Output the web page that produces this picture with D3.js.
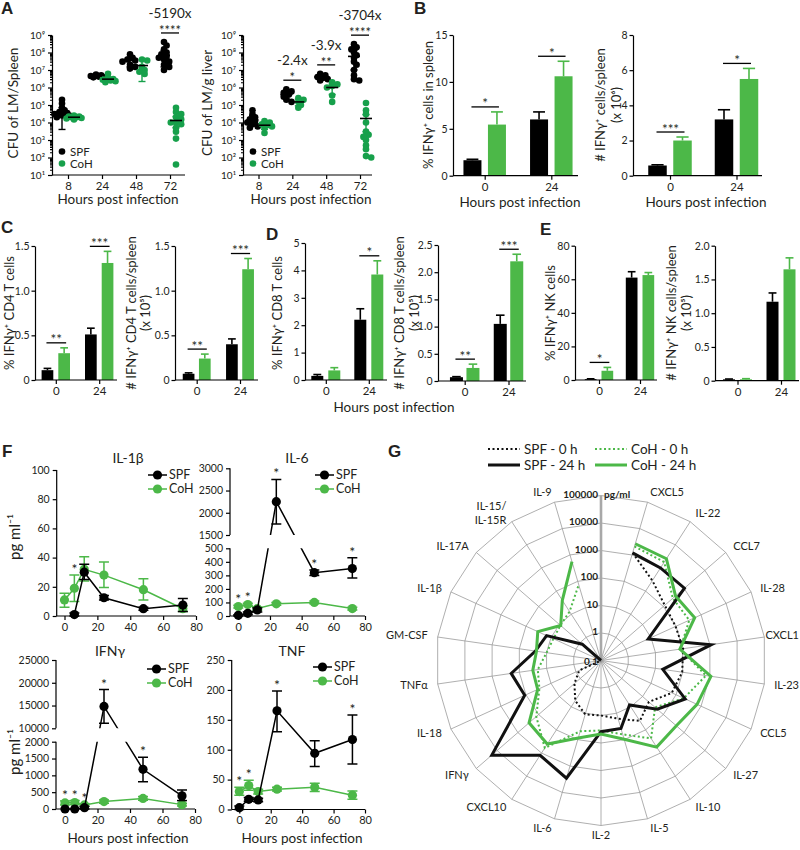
<!DOCTYPE html>
<html><head><meta charset="utf-8">
<script src="https://cdn.jsdelivr.net/npm/d3@7"></script>
<style>
body{margin:0;background:#fff;}
svg text{font-family:Lato,"Open Sans",sans-serif;fill:#231f20;}
</style></head>
<body><svg id="chart" width="800" height="850"></svg>
<script>
// ================= DATA =================
// Panel A : CFU (log scale), individual mice
const hoursA=["8","24","48","72"];
const aTicks=[1e1,1e2,1e3,1e4,1e5,1e6,1e7,1e8,1e9];
const spleenSPF=[[2e5,1.2e5,7e4,5e4,4e4,3.5e4,3e4,2.5e4,2.5e4,2e4],[5.5e6,5e6,4.5e6,4e6,3.8e6,4.2e6],[8e7,5e7,4e7,3.5e7,3e7,2e7,1.5e7,1.2e7],[4e8,2.5e8,1.5e8,1e8,8e7,6e7,5e7,4e7,3e7,2e7,1.5e7,1e7]];
const spleenCoH=[[2.5e4,2.2e4,2e4,2e4,1.8e4,1.7e4,1.5e4,2.2e4],[6e6,3.2e6,3e6,2.8e6,2.5e6,2.3e6,2e6],[4e7,3.5e7,1.5e7,1e7,8e6,6e6],[7e4,4e4,3e4,2e4,1.5e4,1e4,1e4,8e3,5e3,3e3,1.2e3,40]];
const spleenSPFmean=[4e4,4.5e6,3.5e7,7e7];
const spleenSPFerr=[[4e3,7e4],[3.9e6,5.2e6],[1.5e7,5.5e7],[1.5e7,1.3e8]];
const spleenCoHmean=[2e4,3e6,1.8e7,1.3e4];
const spleenCoHerr=[[1.6e4,2.4e4],[2.3e6,4e6],[2.2e6,4e7],[5e3,2.2e4]];
const spleenSig=[null,null,null,{stars:"****",fold:"-5190x"}];

const liverSPF=[[5e4,3e4,2e4,1.5e4,1.2e4,1e4,8e3,6e3,5e3],[8e5,6e5,5e5,4e5,3e5,2e5,1.5e5],[6e6,5e6,4e6,3.5e6,3e6,2.5e6],[3e8,2e8,1.5e8,1e8,7e7,5e7,3e7,2e7,1e7,5e6,3e6,2.5e6]];
const liverCoH=[[1.2e4,1e4,8e3,7e3,6e3,5e3,2.5e3],[2.5e5,2e5,1.5e5,1e5,7e4],[2e6,1.5e6,1.2e6,1e6,3.5e5,1.5e5],[1.3e5,5e4,3e4,1e4,3e3,2e3,1.5e3,1e3,500,300,100,120]];
const liverSPFmean=[1.4e4,4e5,4e6,6e7];
const liverSPFerr=[[7e3,2.5e4],[2.5e5,6e5],[3e6,5.5e6],[1e7,1.3e8]];
const liverCoHmean=[7e3,1.5e5,1e6,1.7e4];
const liverCoHerr=[[4e3,1e4],[9e4,2.2e5],[4e5,1.6e6],[3e3,2.8e4]];
const liverSig=[null,{stars:"*",fold:"-2.4x"},{stars:"**",fold:"-3.9x"},{stars:"****",fold:"-3704x"}];

// Panels B-E : bar charts (mean, top of SEM)
const barGroups=["0","24"];
const bPctSPF=[1.65,6.0],  bPctSPFerr=[1.75,6.8],  bPctCoH=[5.45,10.6], bPctCoHerr=[6.8,12.2], bPctSig=["*","*"];
const bNumSPF=[0.58,3.2],  bNumSPFerr=[0.62,3.75], bNumCoH=[2.0,5.5],   bNumCoHerr=[2.2,6.1],  bNumSig=["***","*"];
const cPctSPF=[0.11,0.51], cPctSPFerr=[0.13,0.58], cPctCoH=[0.30,1.31], cPctCoHerr=[0.36,1.44], cPctSig=["**","***"];
const cNumSPF=[0.07,0.40], cNumSPFerr=[0.08,0.46], cNumCoH=[0.24,1.24], cNumCoHerr=[0.29,1.36], cNumSig=["**","***"];
const dPctSPF=[0.15,2.2],  dPctSPFerr=[0.2,2.6],   dPctCoH=[0.35,3.85], dPctCoHerr=[0.45,4.35], dPctSig=["","*"];
const dNumSPF=[0.07,1.05], dNumSPFerr=[0.08,1.21], dNumCoH=[0.24,2.2],  dNumCoHerr=[0.31,2.33], dNumSig=["**","***"];
const ePctSPF=[0.5,61],    ePctSPFerr=[0.7,64.5],  ePctCoH=[5.5,62.5],  ePctCoHerr=[7.5,64],    ePctSig=["*",""];
const eNumSPF=[0.02,1.17], eNumSPFerr=[0.025,1.3], eNumCoH=[0.02,1.65], eNumCoHerr=[0.03,1.82], eNumSig=["",""];

// Panel F : cytokines over time (pg/ml)
const fTimes=[0,6,12,24,48,72];
const il1bSPF=[null,1,30,12.5,5,7.5];
const il1bSPFerr=[null,[0,2],[25,35.5],[11,14],[4,6],[3,12]];
const il1bCoH=[11,19,32,28,18,5];
const il1bCoHerr=[[6,15.5],[10,28],[24,40.5],[19.5,37],[11,25.5],[3,7]];
const il1bStars=[6];
const il6SPF=[5,20,45,2250,320,350];
const il6SPFerr=[[0,10],[10,30],[30,60],[1750,2750],[300,340],[280,430]];
const il6CoH=[70,85,55,90,100,55];
const il6CoHerr=[[60,80],[75,95],[45,65],[80,100],[90,110],[45,65]];
const il6Stars=[0,6,24,48,72];
const ifngSPF=[0,0,40,14800,1180,390];
const ifngSPFerr=[[0,0],[0,0],[0,80],[11100,18500],[810,1540],[250,565]];
const ifngCoH=[180,190,120,220,315,130];
const ifngCoHerr=[[120,240],[130,250],[80,160],[170,270],[260,370],[90,170]];
const ifngStars=[0,6,12,24,48];
const tnfSPF=[3,17,16,165,94,117];
const tnfSPFerr=[[0,6],[14,20],[13,19],[130,198],[72,115],[76,158]];
const tnfCoH=[30,40,30,34,37,24];
const tnfCoHerr=[[24,37],[32,49],[26,34],[31,37],[30,44],[17,31]];
const tnfStars=[0,6,24,72];

// Panel G : radar (pg/ml, log)
const radarCats=["CXCL5","IL-22","CCL7","IL-28","CXCL1","IL-23","CCL5","IL-27","IL-10","IL-5","IL-2","IL-6","CXCL10","IFNγ","IL-18","TNFα","GM-CSF","IL-1β","IL-17A","IL-15/|IL-15R","IL-9"];
const radarSPF0 =[1200,285,117,96,104,96,68,20,41,16,10,11,5.4,1.9,0.74,0.1,0.1,0.1,0.1,0.1,0.1];
const radarCoH0 =[2100,1800,285,337,81,716,204,40,233,63,35,48,605,130,29,21,10,8,9,13,75];
const radarSPF24=[1200,1000,1035,7.7,1115,18.6,233,51,8.3,37.5,38.8,2900,1250,18000,112,199,25.7,15,0.8,0.1,0.1];
const radarCoH24=[2660,2510,385,556,79,1090,692,422,556,97,47,86,408,290,34,32,23.5,33.7,8.7,40,556];
const radarRings=[1,10,100,1000,10000,100000];
const radarSeries=[
  {name:"SPF - 0 h", vals:radarSPF0, color:"#111", dash:"2,2.5", w:2},
  {name:"CoH - 0 h", vals:radarCoH0, color:"#4cb848", dash:"2,2.5", w:2},
  {name:"SPF - 24 h",vals:radarSPF24,color:"#111", dash:null, w:3},
  {name:"CoH - 24 h",vals:radarCoH24,color:"#4cb848", dash:null, w:3}
];

// ================= DRAWING =================
const svg=d3.select("#chart");
const BLK="#000", GRN="#4cb848", GRN_A="#17a04b";
const supDigits="⁰¹²³⁴⁵⁶⁷⁸⁹";
const sup=n=>String(n).split("").map(c=>supDigits[+c]).join("");

function styleAxis(a,fs){
  a.attr("font-family",null).attr("font-size",fs);
  a.selectAll(".domain,.tick line").attr("stroke","#000").attr("stroke-width",1.2);
  a.selectAll("text").attr("fill","#231f20");
}
function rotLabel(xs,y,lines,fs){
  lines.forEach((t,i)=>svg.append("text").attr("transform",`translate(${xs[i]},${y}) rotate(-90)`)
    .attr("text-anchor","middle").attr("dy","0.35em").attr("font-size",fs).text(t));
}
function txt(x,y,t,fs,anchor){
  return svg.append("text").attr("x",x).attr("y",y).attr("font-size",fs).attr("text-anchor",anchor||"middle").text(t);
}
function panelLabel(x,y,t){
  svg.append("text").attr("x",x).attr("y",y).attr("font-size",17).attr("font-weight","bold")
   .style("font-family","'Liberation Sans',Arial,sans-serif").text(t);
}

// ---------- Panel A ----------
// compact dodge: points that would overlap are nudged sideways, within a narrow band
function swarm(vals,y,cx){
  const pts=vals.map(v=>({v,y:y(v)})).sort((a,b)=>a.y-b.y);
  const placed=[]; const offs=[0,2.6,-2.6,5.2,-5.2,7.5,-7.5];
  pts.forEach(p=>{
    let best=0,bestD=-1;
    for(const o of offs){
      const dmin=placed.length?d3.min(placed,q=>Math.hypot(q.x-(cx+o),q.y-p.y)):99;
      if(dmin>=3.6){best=o;bestD=dmin;break;}
      if(dmin>bestD){bestD=dmin;best=o;}
    }
    p.x=cx+best; placed.push(p);
  });
  return pts;
}
function scatterA(o){
  const g=svg.append("g");
  const y=d3.scaleLog().domain([10,1e9]).range([175,35]);
  const xg=d3.scalePoint().domain(hoursA).range([o.c0,o.c1]);
  const off={SPF:-6,CoH:6};
  const ya=g.append("g").attr("transform",`translate(${o.ax},0)`)
    .call(d3.axisLeft(y).tickValues(aTicks).tickSize(4).tickSizeOuter(0).tickFormat(v=>"10"+sup(Math.round(Math.log10(v)))));
  styleAxis(ya,10);
  const minor=[]; aTicks.slice(0,-1).forEach(t=>{for(let k=2;k<10;k++)minor.push(t*k);});
  const ym=g.append("g").attr("transform",`translate(${o.ax},0)`).call(d3.axisLeft(y).tickValues(minor).tickSize(2).tickFormat(()=>""));
  ym.select(".domain").remove(); styleAxis(ym,9);
  const xa=g.append("g").attr("transform","translate(0,175)").call(d3.axisBottom(xg).tickSize(4).tickSizeOuter(0));
  xa.select(".domain").attr("d",`M${o.ax},0H${o.axEnd}`);
  styleAxis(xa,11.5);
  const series=[{k:"SPF",pts:o.spf,m:o.spfM,e:o.spfE,c:BLK,ec:BLK},{k:"CoH",pts:o.coh,m:o.cohM,e:o.cohE,c:GRN_A,ec:GRN_A}];
  series.forEach(s=>{
    hoursA.forEach((h,i)=>{
      const cx=xg(h)+off[s.k];
      swarm(s.pts[i],y,cx).forEach(p=>g.append("circle").attr("cx",p.x).attr("cy",p.y).attr("r",3.3).attr("fill",s.c));
    });
  });
  series.forEach(s=>{
    hoursA.forEach((h,i)=>{
      const cx=xg(h)+off[s.k];
      g.append("line").attr("x1",cx).attr("x2",cx).attr("y1",y(s.e[i][0])).attr("y2",y(s.e[i][1])).attr("stroke",s.ec).attr("stroke-width",1.4);
      s.e[i].forEach(v=>g.append("line").attr("x1",cx-3.5).attr("x2",cx+3.5).attr("y1",y(v)).attr("y2",y(v)).attr("stroke",s.ec).attr("stroke-width",1.4));
      g.append("line").attr("x1",cx-6).attr("x2",cx+6).attr("y1",y(s.m[i])).attr("y2",y(s.m[i])).attr("stroke","#000").attr("stroke-width",1.6);
    });
  });
  o.sig.forEach((sg,i)=>{
    if(!sg) return;
    const top=y(d3.max(o.spf[i].concat(o.coh[i])));
    const ly=top-9, cx=xg(hoursA[i]);
    g.append("line").attr("x1",cx-9).attr("x2",cx+9).attr("y1",ly).attr("y2",ly).attr("stroke","#000").attr("stroke-width",1.3);
    txt(cx,ly+2,sg.stars,13);
    txt(cx,ly-15,sg.fold,13.5);
  });
  [["SPF",BLK],["CoH",GRN_A]].forEach((d,i)=>{
    g.append("circle").attr("cx",o.lx).attr("cy",o.ly+i*12).attr("r",3.3).attr("fill",d[1]);
    txt(o.lx+8,o.ly+i*12+4,d[0],11.5,"start");
  });
  txt(o.xlx,204,"Hours post infection",13.5);
  rotLabel([o.ylx],103,[o.ylabel],13.5);
}
scatterA({ax:52,axEnd:185,c0:68,c1:170,spf:spleenSPF,coh:spleenCoH,spfM:spleenSPFmean,spfE:spleenSPFerr,cohM:spleenCoHmean,cohE:spleenCoHerr,sig:spleenSig,lx:62,ly:151.5,xlx:118,ylx:13,ylabel:"CFU of LM/Spleen"});
scatterA({ax:243,axEnd:372,c0:258.5,c1:360,spf:liverSPF,coh:liverCoH,spfM:liverSPFmean,spfE:liverSPFerr,cohM:liverCoHmean,cohE:liverCoHerr,sig:liverSig,lx:253,ly:151.5,xlx:311,ylx:207,ylabel:"CFU of LM/g liver"});

// ---------- Bar charts B-E ----------
function barChart(o){
  const g=svg.append("g");
  const y=d3.scaleLinear().domain([0,o.max]).range([o.y0,o.yTop]);
  const xg=d3.scalePoint().domain(barGroups).range([o.c0,o.c1]);
  const xs=d3.scaleOrdinal().domain(["SPF","CoH"]).range([-(o.gap/2+o.bw),o.gap/2]);
  const series=[{k:"SPF",v:o.spf,e:o.spfE,c:BLK},{k:"CoH",v:o.coh,e:o.cohE,c:GRN}];
  series.forEach(s=>{
    g.selectAll(null).data(barGroups).enter().append("rect")
      .attr("x",d=>xg(d)+xs(s.k)).attr("width",o.bw)
      .attr("y",(d,i)=>y(s.v[i])).attr("height",(d,i)=>y(0)-y(s.v[i])).attr("fill",s.c);
    barGroups.forEach((d,i)=>{
      const cx=xg(d)+xs(s.k)+o.bw/2;
      g.append("line").attr("x1",cx).attr("x2",cx).attr("y1",y(s.v[i])).attr("y2",y(s.e[i])).attr("stroke",s.c).attr("stroke-width",1.6);
      g.append("line").attr("x1",cx-o.bw*0.33).attr("x2",cx+o.bw*0.33).attr("y1",y(s.e[i])).attr("y2",y(s.e[i])).attr("stroke",s.c).attr("stroke-width",1.6);
    });
  });
  const ya=g.append("g").attr("transform",`translate(${o.ax},0)`)
    .call(d3.axisLeft(y).tickValues(o.ticks).tickSize(3.5).tickPadding(2).tickSizeOuter(0).tickFormat(o.fmt||d3.format("")));
  styleAxis(ya,10.5);
  const xa=g.append("g").attr("transform",`translate(0,${o.y0})`).call(d3.axisBottom(xg).tickSize(4).tickSizeOuter(0));
  xa.select(".domain").attr("d",`M${o.ax},0H${o.axEnd}`);
  styleAxis(xa,11.5);
  o.sig.forEach((t,i)=>{
    if(!t) return;
    const d=barGroups[i];
    const ly=Math.min(y(o.spfE[i]),y(o.cohE[i]))-5;
    const x1=xg(d)+xs("SPF")+o.bw/2-1, x2=xg(d)+xs("CoH")+o.bw/2+2;
    g.append("line").attr("x1",x1).attr("x2",x2).attr("y1",ly).attr("y2",ly).attr("stroke","#000").attr("stroke-width",1.3);
    txt((x1+x2)/2,ly+1.5,t,13.5);
  });
  rotLabel(o.lx,o.ly,o.label,13);
}
const fmt1=d3.format(".1f");
barChart({ax:453,axEnd:578,y0:175.7,yTop:35,max:15,ticks:[0,5,10,15],c0:484.7,c1:551.3,bw:18,gap:6.5,spf:bPctSPF,spfE:bPctSPFerr,coh:bPctCoH,cohE:bPctCoHerr,sig:bPctSig,lx:[428],ly:105,label:["% IFNγ⁺ cells in spleen"]});
barChart({ax:633,axEnd:762,y0:175.7,yTop:35,max:8,ticks:[0,2,4,6,8],c0:670,c1:736.5,bw:18.5,gap:6.5,spf:bNumSPF,spfE:bNumSPFerr,coh:bNumCoH,cohE:bNumCoHerr,sig:bNumSig,lx:[600,616],ly:105,label:["# IFNγ⁺ cells/spleen","(x 10⁶)"]});
barChart({ax:35,axEnd:117,y0:380,yTop:246,max:1.5,ticks:[0,0.5,1,1.5],fmt:v=>v===0?"0":fmt1(v),c0:55.8,c1:99.2,bw:11.7,gap:5,spf:cPctSPF,spfE:cPctSPFerr,coh:cPctCoH,cohE:cPctCoHerr,sig:cPctSig,lx:[9],ly:313,label:["% IFNγ⁺ CD4 T cells"]});
barChart({ax:175,axEnd:258,y0:380,yTop:246,max:1.5,ticks:[0,0.5,1,1.5],fmt:v=>v===0?"0":fmt1(v),c0:196.7,c1:240,bw:11.7,gap:4.5,spf:cNumSPF,spfE:cNumSPFerr,coh:cNumCoH,cohE:cNumCoHerr,sig:cNumSig,lx:[131,145],ly:313,label:["# IFNγ⁺ CD4 T cells/spleen","(x 10⁵)"]});
barChart({ax:305,axEnd:387,y0:380,yTop:243,max:5,ticks:[0,1,2,3,4,5],c0:325.8,c1:368.8,bw:12,gap:5,spf:dPctSPF,spfE:dPctSPFerr,coh:dPctCoH,cohE:dPctCoHerr,sig:dPctSig,lx:[277],ly:313,label:["% IFNγ⁺ CD8 T cells"]});
barChart({ax:438,axEnd:526,y0:381,yTop:245,max:2.5,ticks:[0,0.5,1,1.5,2,2.5],fmt:v=>v===0?"0":fmt1(v),c0:464.7,c1:508.5,bw:13,gap:3.5,spf:dNumSPF,spfE:dNumSPFerr,coh:dNumCoH,cohE:dNumCoHerr,sig:dNumSig,lx:[399,414],ly:313,label:["# IFNγ⁺ CD8 T cells/spleen","(x 10⁵)"]});
barChart({ax:575,axEnd:657,y0:380,yTop:245.7,max:80,ticks:[0,20,40,60,80],c0:599,c1:640,bw:11.7,gap:5,spf:ePctSPF,spfE:ePctSPFerr,coh:ePctCoH,cohE:ePctCoHerr,sig:ePctSig,lx:[550],ly:313,label:["% IFNγ⁺ NK cells"]});
barChart({ax:715,axEnd:799,y0:380.7,yTop:245.7,max:2,ticks:[0,0.5,1,1.5,2],fmt:v=>v===0?"0":fmt1(v),c0:737.5,c1:781,bw:12,gap:5,spf:eNumSPF,spfE:eNumSPFerr,coh:eNumCoH,cohE:eNumCoHerr,sig:eNumSig,lx:[671,686],ly:313,label:["# IFNγ⁺ NK cells/spleen","(x 10⁵)"]});
txt(520,207,"Hours post infection",13.5);
txt(706,207,"Hours post infection",13.5);
txt(394,412,"Hours post infection",13.5);

// ---------- Panel F ----------
function lineChart(o){
  const g=svg.append("g");
  const x=d3.scaleLinear().domain([0,80]).range([o.x0,o.x80]);
  const y=d3.scaleLinear().domain(o.yDom).range(o.yRng);
  o.segs.forEach(sg=>{
    const a=g.append("g").attr("transform",`translate(${o.ax},0)`)
      .call(d3.axisLeft(y).tickValues(sg).tickSize(4).tickSizeOuter(0).tickFormat(d3.format("d")));
    a.select(".domain").attr("d",`M0,${y(sg[0])}V${y(sg[sg.length-1])}`);
    styleAxis(a,10.5);
  });
  const xa=g.append("g").attr("transform",`translate(0,${y(0)})`).call(d3.axisBottom(x).tickValues([0,20,40,60,80]).tickSize(4).tickSizeOuter(0));
  xa.select(".domain").attr("d",`M${o.ax},0H${x(80)}`);
  styleAxis(xa,11);
  const id="clip"+o.id;
  const cp=svg.append("defs").append("clipPath").attr("id",id);
  o.segs.forEach((sg,k)=>{
    const top=y(sg[sg.length-1])-(k===o.segs.length-1?40:0);
    const bot=y(sg[0])+(k===0?12:0);
    cp.append("rect").attr("x",o.ax-10).attr("width",x(80)-o.ax+30).attr("y",top).attr("height",bot-top);
  });
  const series=[{v:o.coh,e:o.cohE,c:GRN},{v:o.spf,e:o.spfE,c:BLK}];
  series.forEach(s=>{
    const data=fTimes.map((t,i)=>({t,v:s.v[i],e:s.e[i]}));
    g.append("path").datum(data).attr("clip-path",`url(#${id})`)
      .attr("d",d3.line().defined(d=>d.v!=null).x(d=>x(d.t)).y(d=>y(d.v)))
      .attr("fill","none").attr("stroke",s.c).attr("stroke-width",1.5);
    data.filter(d=>d.v!=null).forEach(d=>{
      const cx=x(d.t);
      if(d.e[1]>d.e[0]){
        const eg=g.append("g").attr("clip-path",`url(#${id})`);
        eg.append("line").attr("x1",cx).attr("x2",cx).attr("y1",y(d.e[0])).attr("y2",y(d.e[1])).attr("stroke",s.c).attr("stroke-width",1.5);
        d.e.forEach(v=>eg.append("line").attr("x1",cx-5).attr("x2",cx+5).attr("y1",y(v)).attr("y2",y(v)).attr("stroke",s.c).attr("stroke-width",1.5));
      }
      g.append("circle").attr("cx",cx).attr("cy",y(d.v)).attr("r",4.6).attr("fill",s.c);
    });
  });
  o.stars.forEach(t=>{
    const i=fTimes.indexOf(t);
    const tops=[o.spf,o.coh].map((v,k)=>{const e=[o.spfE,o.cohE][k][i];return v[i]==null?Infinity:y(Math.max(v[i],e?e[1]:v[i]));});
    const top=Math.min(...tops);
    txt(x(t),top-1,"*",14);
  });
  [["SPF",BLK],["CoH",GRN]].forEach((d,i)=>{
    const ly=o.leg[1]+i*14;
    g.append("line").attr("x1",o.leg[0]).attr("x2",o.leg[0]+19).attr("y1",ly).attr("y2",ly).attr("stroke",d[1]).attr("stroke-width",1.5);
    g.append("circle").attr("cx",o.leg[0]+9.5).attr("cy",ly).attr("r",4.6).attr("fill",d[1]);
    txt(o.leg[0]+21,ly+4,d[0],12.5,"start");
  });
  txt(o.tx,o.ty,o.title,14);
}
lineChart({id:"il1b",ax:56.7,x0:64.5,x80:196,yDom:[0,100],yRng:[616,470],segs:[[0,20,40,60,80,100]],spf:il1bSPF,spfE:il1bSPFerr,coh:il1bCoH,cohE:il1bCoHerr,stars:il1bStars,leg:[148,475],title:"IL-1β",tx:128,ty:463});
lineChart({id:"il6",ax:230,x0:238.3,x80:365,yDom:[0,500,1500,3000],yRng:[616,548.3,535,468.3],segs:[[0,100,200,300,400,500],[1500,2000,2500,3000]],spf:il6SPF,spfE:il6SPFerr,coh:il6CoH,cohE:il6CoHerr,stars:il6Stars,leg:[315,475],title:"IL-6",tx:297,ty:463});
lineChart({id:"ifng",ax:56,x0:65,x80:195,yDom:[0,2000,10000,25000],yRng:[809,741.7,728.3,660],segs:[[0,500,1000,1500,2000],[10000,15000,20000,25000]],spf:ifngSPF,spfE:ifngSPFerr,coh:ifngCoH,cohE:ifngCoHerr,stars:ifngStars,leg:[147,669],title:"IFNγ",tx:110,ty:656});
lineChart({id:"tnf",ax:231.7,x0:239.3,x80:365,yDom:[0,250],yRng:[809.5,660],segs:[[0,50,100,150,200,250]],spf:tnfSPF,spfE:tnfSPFerr,coh:tnfCoH,cohE:tnfCoHerr,stars:tnfStars,leg:[313,667],title:"TNF",tx:292,ty:656});
rotLabel([15],537,["pg ml⁻¹"],15);
rotLabel([15],752,["pg ml⁻¹"],15);
txt(128,843,"Hours post infection",13.5);
txt(302,843,"Hours post infection",13.5);

// ---------- Panel G : radar ----------
(function(){
  const cx=601, cy=660.5, R=165;
  const g=svg.append("g");
  const rS=d3.scaleLog().domain([0.1,1e5]).range([0,R]);
  const nSp=radarCats.length+1;
  const aOf=i=>i*2*Math.PI/nSp;
  const pt=(i,r)=>[cx+r*Math.sin(aOf(i)),cy-r*Math.cos(aOf(i))];
  radarRings.forEach(v=>{
    const pts=d3.range(nSp).map(i=>pt(i,rS(v)));
    g.append("path").attr("d","M"+pts.map(p=>p.join(",")).join("L")+"Z").attr("fill","none").attr("stroke","#9a9a9a").attr("stroke-width",0.8);
  });
  d3.range(nSp).forEach(i=>{
    const p=pt(i,R);
    g.append("line").attr("x1",cx).attr("y1",cy).attr("x2",p[0]).attr("y2",p[1])
      .attr("stroke",i===0?"#a8a8a8":"#9a9a9a").attr("stroke-width",i===0?2.6:0.8);
  });
  radarSeries.forEach(s=>{
    g.append("path").datum(s.vals)
      .attr("transform",`translate(${cx},${cy})`)
      .attr("d",d3.lineRadial().angle((d,i)=>aOf(i+1)).radius(d=>rS(d)))
      .attr("fill","none").attr("stroke",s.color).attr("stroke-width",s.w)
      .attr("stroke-dasharray",s.dash).attr("stroke-linejoin","miter");
  });
  radarRings.concat([0.1]).forEach(v=>{
    txt(cx-3,cy-rS(v)+(v===0.1?4:2),v===0.1?"0.1":String(v),10,"end").attr("font-weight","bold");
  });
  txt(cx+3,cy-rS(1e5)+2,"pg/ml",10,"start").attr("font-weight","bold");
  radarCats.forEach((c,k)=>{
    const i=k+1, a=aOf(i), s=Math.sin(a), co=Math.cos(a);
    const r=R+10;
    let x=cx+r*s, y=cy-r*co+3.7;
    const anchor=Math.abs(s)<0.1?"middle":(s>0?"start":"end");
    const lines=c.split("|");
    const t=svg.append("text").attr("font-size",11).attr("text-anchor",anchor);
    lines.forEach((l,j)=>t.append("tspan").attr("x",x).attr("y",y+(j-(lines.length-1)/2)*14).text(l));
    if(anchor==="start"){
      const len=t.node().getComputedTextLength();
      if(x+len>799){t.selectAll("tspan").attr("x",799-len);}
    }
  });
  const leg=[[488,449,0],[595,449,1],[488,465,2],[595,465,3]];
  leg.forEach(([lx,ly,k])=>{
    const s=radarSeries[k];
    svg.append("line").attr("x1",lx).attr("x2",lx+32).attr("y1",ly).attr("y2",ly)
      .attr("stroke",s.color).attr("stroke-width",s.w).attr("stroke-dasharray",s.dash);
    txt(lx+36,ly+5,s.name,13.5,"start");
  });
})();

panelLabel(1,14,"A"); panelLabel(414,14,"B"); panelLabel(1,233,"C"); panelLabel(266,240,"D");
panelLabel(540,235,"E"); panelLabel(2,457,"F"); panelLabel(388,457,"G");
</script></body></html>
